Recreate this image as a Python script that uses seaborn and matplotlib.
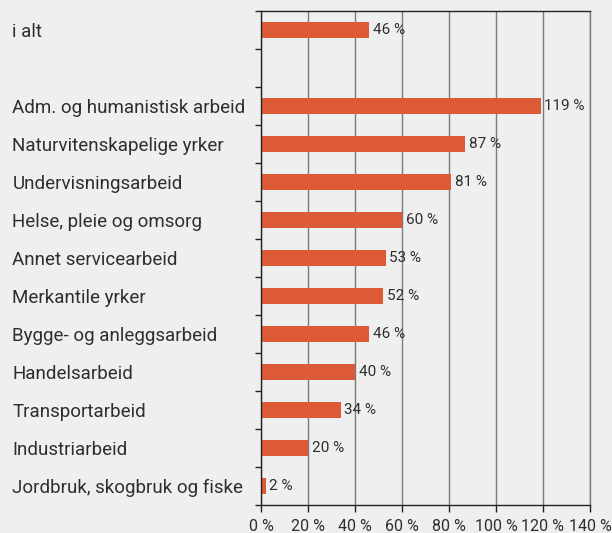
import pandas as pd
import seaborn as sns
import matplotlib.pyplot as plt
import numpy as np

categories = [
    "i alt",
    "",
    "Adm. og humanistisk arbeid",
    "Naturvitenskapelige yrker",
    "Undervisningsarbeid",
    "Helse, pleie og omsorg",
    "Annet servicearbeid",
    "Merkantile yrker",
    "Bygge- og anleggsarbeid",
    "Handelsarbeid",
    "Transportarbeid",
    "Industriarbeid",
    "Jordbruk, skogbruk og fiske",
]
values = [46, np.nan, 119, 87, 81, 60, 53, 52, 46, 40, 34, 20, 2]
x_ticks = [0, 20, 40, 60, 80, 100, 120, 140]

bg = "#efefef"
bar_color = "#dc5a35"
text_color = "#2e2e2e"

sns.set_theme(style="white")
plt.rcParams["font.family"] = ["Roboto", "DejaVu Sans"]

df = pd.DataFrame({"kategori": categories, "verdi": values})
df["kategori"] = pd.Categorical(df["kategori"], categories=categories)

fig = plt.figure(figsize=(6.12, 5.33), dpi=100, facecolor=bg)
ax = fig.add_axes([261 / 612, 1 - 505 / 533, (590 - 261) / 612, (505 - 11) / 533])
ax.set_facecolor(bg)

sns.barplot(data=df, x="verdi", y="kategori", order=categories,
            color=bar_color, saturation=1, width=0.42, linewidth=0, ax=ax)

ax.set_xlim(0, 140)
ax.set_ylim(len(categories) - 0.5, -0.5)
ax.set_xticks(x_ticks)
ax.set_xticklabels([f"{t} %" for t in x_ticks], fontsize=11.5, color=text_color)
ax.xaxis.grid(True, color="#7a7a7a", linewidth=1)
ax.set_axisbelow(True)
ax.set_xlabel("")
ax.set_ylabel("")

# category labels left aligned near the figure edge
ax.set_yticks(range(len(categories)))
ax.set_yticklabels(categories, fontsize=13.5, color=text_color, ha="left")
ax.tick_params(axis="y", which="major", length=0, pad=179)
ax.set_yticks(np.arange(-0.5, len(categories), 1), minor=True)
ax.tick_params(axis="y", which="minor", length=4, width=1, color="#222222", left=True)
ax.tick_params(axis="x", which="major", length=5, width=1, color="#222222", bottom=True, pad=5)

for side in ["left", "bottom", "top"]:
    ax.spines[side].set_color("#222222")
    ax.spines[side].set_linewidth(1)
ax.spines["right"].set_color("#7a7a7a")
ax.spines["right"].set_linewidth(1)

for i, v in enumerate(values):
    if not np.isnan(v):
        ax.text(v + 1.5, i, f"{v:.0f} %", va="center", ha="left",
                fontsize=11, color=text_color)

fig.savefig("out.png", dpi=100, facecolor=bg)
